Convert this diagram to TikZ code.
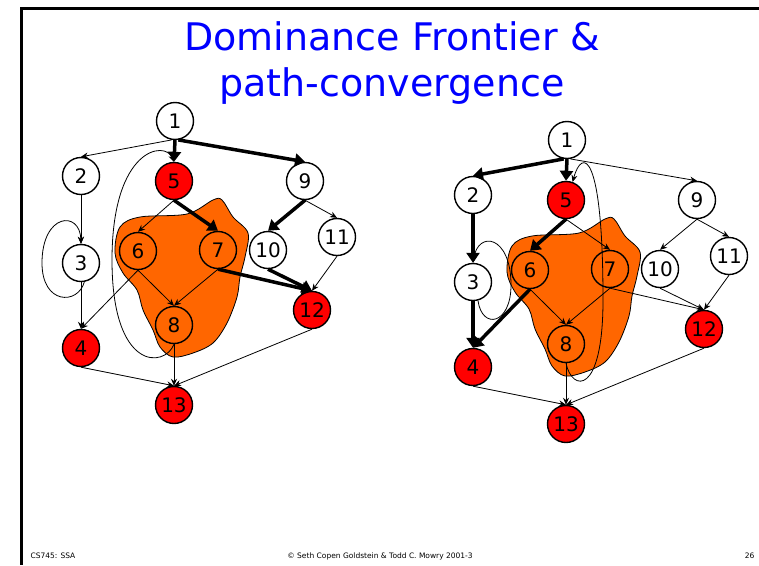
\documentclass[tikz,border=0pt]{standalone}
\usepackage{fontspec}
\setmainfont{DejaVu Sans}
\usetikzlibrary{arrows.meta}
\definecolor{slideblue}{RGB}{0,0,255}
\definecolor{blobor}{RGB}{255,102,0}
\definecolor{nodered}{RGB}{255,0,0}
\tikzset{
  vtx/.style={circle, draw=black, line width=1.4pt, minimum size=37pt, inner sep=0pt, font=\fontsize{20}{20}\selectfont},
  wv/.style={vtx, fill=white},
  rv/.style={vtx, fill=nodered},
  ov/.style={vtx},
  thinedge/.style={line width=0.8pt, -{Stealth[length=7pt,width=6pt]}},
  thickedge/.style={line width=3.5pt, -{Triangle[length=10pt,width=13pt]}},
  blobstyle/.style={fill=blobor, draw=black, line width=0.8pt},
  border/.style={line width=3pt, black},
  titletext/.style={font=\fontsize{38}{46}\selectfont, text=slideblue, anchor=base},
  foot/.style={font=\fontsize{7.5}{8}\selectfont, anchor=base},
}
\newcommand\blobshape{%
  \draw[blobstyle] plot[smooth cycle, tension=0.55] coordinates {
    (115,253) (120,227) (140,217) (187,214) (213,200) (222,200) (233,217)
    (248,233) (245,257) (240,277) (237,297) (227,323) (213,343) (193,353)
    (173,357) (160,347) (153,330) (143,310) (137,290) (123,273)};
}
\newcommand\graphnodes{%
  \node[wv] (1) at (175,121) {1};
  \node[wv] (2) at (81,176) {2};
  \node[rv] (5) at (174,181) {5};
  \node[wv] (9) at (305,181) {9};
  \node[wv] (3) at (81,263) {3};
  \node[ov] (6) at (138,251) {6};
  \node[ov] (7) at (218,250) {7};
  \node[wv] (10) at (268,250) {10};
  \node[wv] (11) at (337,237) {11};
  \node[rv] (12) at (312,310) {12};
  \node[ov] (8) at (174,325) {8};
  \node[rv] (4) at (81,348) {4};
  \node[rv] (13) at (174,405) {13};
}
\begin{document}
\begin{tikzpicture}[x=1pt, y=-1pt]
\useasboundingbox (0,0) rectangle (759,565);
% slide border
\draw[border] (20,8) -- (759,8);
\draw[border] (21,8) -- (21,565);
% title
\node[titletext] (t1) at (392,50) {Dominance Frontier \&};
\node[titletext] (t2) at (392,96) {path-convergence};
% blobs
\blobshape
\begin{scope}[shift={(392,19)}]
\blobshape
\end{scope}
% nodes
\begin{scope}[name prefix=a]
\graphnodes
\end{scope}
\begin{scope}[shift={(392,19)}, name prefix=b]
\graphnodes
\end{scope}
% ---- left graph edges
\draw[thinedge] (a1.-100) -- (a2.north);
\draw[thickedge] (a1.south) -- (a5.north);
\draw[thickedge] (a1.-80) -- (a9.north);
\draw[thinedge] (a2.south) -- (a3.north);
\draw[thinedge] (a3.-80) .. controls (78,305) and (42,305) .. (42,263) .. controls (42,213) and (80,210) .. (a3.north);
\draw[thinedge] (a3.south) -- (a4.north);
\draw[thinedge] (a5.south) -- (a6.north);
\draw[thickedge] (a5.south) -- (a7.north);
\draw[thinedge] (a6.south) -- (a8.north);
\draw[thinedge] (a6.south) -- (a4.north);
\draw[thinedge] (a7.south) -- (a8.north);
\draw[thickedge] (a7.south) -- (a12.north);
\draw[thickedge] (a9.south) -- (a10.north);
\draw[thinedge] (a9.south) -- (a11.north);
\draw[thickedge] (a10.south) -- (a12.north);
\draw[thinedge] (a11.south) -- (a12.north);
\draw[thinedge] (a4.south) -- (a13.north);
\draw[thinedge] (a8.south) -- (a13.north);
\draw[thinedge] (a12.south) -- (a13.north);
\draw[thinedge] (a8.south) .. controls (165,368) and (112,372) .. (112,260) .. controls (112,148) and (165,140) .. (a5.north);
% ---- right graph edges
\draw[thickedge] (b1.-100) -- (b2.north);
\draw[thickedge] (b1.south) -- (b5.north);
\draw[thinedge] (b1.-80) -- (b9.north);
\draw[thickedge] (b2.south) -- (b3.north);
\draw[thinedge] (b3.-75) .. controls (482,330) and (511,325) .. (511,285) .. controls (511,235) and (478,230) .. (b3.north);
\draw[thickedge] (b3.south) -- (b4.north);
\draw[thickedge] (b5.south) -- (b6.north);
\draw[thinedge] (b5.south) -- (b7.north);
\draw[thinedge] (b6.south) -- (b8.north);
\draw[thickedge] (b6.south) -- (b4.north);
\draw[thinedge] (b7.south) -- (b8.north);
\draw[thinedge] (b7.south) -- (b12.north);
\draw[thinedge] (b9.south) -- (b10.north);
\draw[thinedge] (b9.south) -- (b11.north);
\draw[thinedge] (b10.south) -- (b12.north);
\draw[thinedge] (b11.south) -- (b12.north);
\draw[thinedge] (b4.south) -- (b13.north);
\draw[thinedge] (b8.south) -- (b13.north);
\draw[thinedge] (b12.south) -- (b13.north);
\draw[thinedge] (b8.south) .. controls (572,392) and (603,396) .. (603,300) .. controls (603,150) and (582,148) .. (b5.70);
% footer
\node[foot, anchor=base west] (f1) at (27,558) {CS745: SSA};
\node[foot] (f2) at (380,558) {© Seth Copen Goldstein \& Todd C. Mowry 2001-3};
\node[foot, anchor=base east] (f3) at (758,558) {26};
\end{tikzpicture}
\end{document}
